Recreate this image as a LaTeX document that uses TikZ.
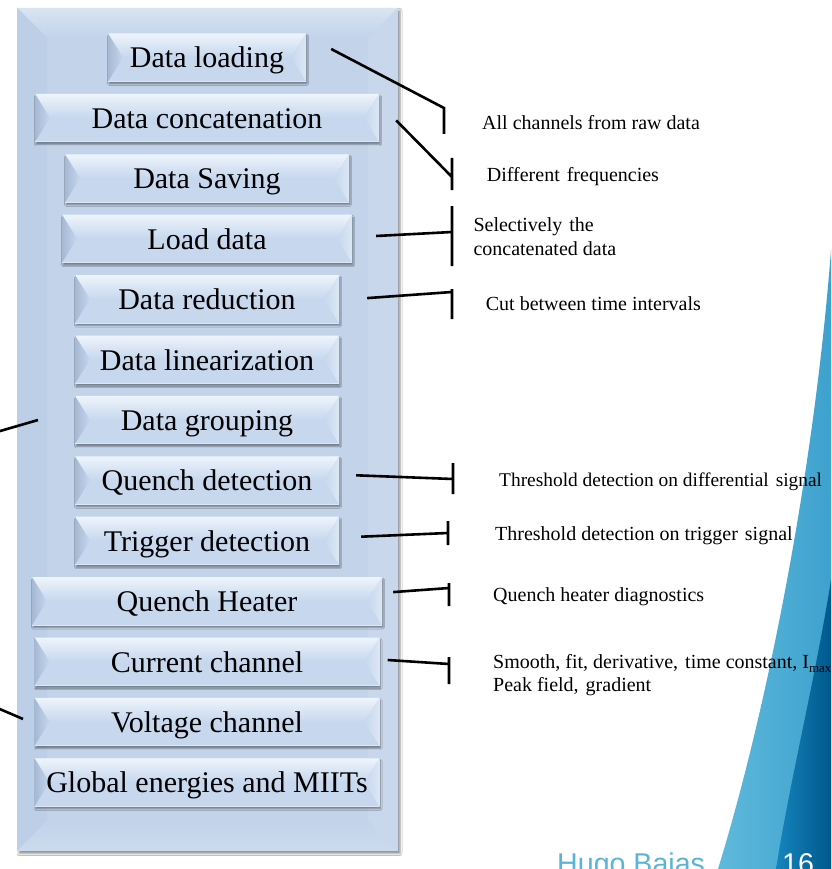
\documentclass[tikz,border=0pt]{standalone}
\usepackage{fontspec}
\setmainfont{Liberation Serif}
\newfontfamily\footerfont{Liberation Sans}
\usepackage{xcolor}
\definecolor{panelBlue}{HTML}{C2D3EA}
\definecolor{panelHigh}{HTML}{D9E4F3}
\definecolor{panelSide}{HTML}{BDCFE7}
\definecolor{panelEdge}{HTML}{C8D7EC}
\definecolor{panelLow}{HTML}{CCDAED}
\definecolor{stageBlue}{HTML}{C6D7EE}
\definecolor{stageHigh}{HTML}{EEF4FB}
\definecolor{stageDark}{HTML}{A6B9D4}
\definecolor{stageLight}{HTML}{DDE7F5}
\definecolor{lightWave}{HTML}{5FB9DC}
\definecolor{midWave}{HTML}{1585BC}
\definecolor{deepWave}{HTML}{00588C}
\definecolor{footerBlue}{HTML}{5AB4D8}
\usetikzlibrary{
    positioning,
    calc,
    shadows.blur
}
\tikzset{
    % Outer bevelled panel behind the stages
    panel/.style={
        rectangle,
        inner sep=0pt,
        fill=panelBlue,
        blur shadow={
            shadow xshift=2pt,
            shadow yshift=-2.5pt,
            shadow blur radius=2pt,
            shadow opacity=45
        },
        path picture={
            \path (path picture bounding box.north west) coordinate (pnw)
                  (path picture bounding box.north east) coordinate (pne)
                  (path picture bounding box.south west) coordinate (psw)
                  (path picture bounding box.south east) coordinate (pse);
            \path ([shift={(30pt,-30pt)}]pnw) coordinate (qnw)
                  ([shift={(-30pt,-30pt)}]pne) coordinate (qne)
                  ([shift={(30pt,30pt)}]psw) coordinate (qsw)
                  ([shift={(-30pt,30pt)}]pse) coordinate (qse);
            \shade[top color=panelHigh, bottom color=panelBlue] (pnw) -- (pne) -- (qne) -- (qnw) -- cycle;
            \fill[panelSide] (pnw) -- (qnw) -- (qsw) -- (psw) -- cycle;
            \fill[panelEdge] (pne) -- (qne) -- (qse) -- (pse) -- cycle;
            \shade[top color=panelBlue, bottom color=panelLow] (psw) -- (qsw) -- (qse) -- (pse) -- cycle;
        },
    },
    % Bevelled stage box
    stage/.style={
        rectangle,
        minimum height=48pt,
        inner sep=0pt,
        text height=24pt,
        text depth=3pt,
        font=\fontsize{30}{34}\selectfont,
        fill=stageBlue,
        blur shadow={
            shadow xshift=1pt,
            shadow yshift=-2.5pt,
            shadow blur radius=1.5pt,
            shadow blur steps=4,
            shadow opacity=40
        },
        path picture={
            \path (path picture bounding box.north west) coordinate (snw)
                  (path picture bounding box.north east) coordinate (sne)
                  (path picture bounding box.south west) coordinate (ssw)
                  (path picture bounding box.south east) coordinate (sse)
                  ([xshift=15pt]path picture bounding box.west) coordinate (bevelL)
                  ([xshift=-15pt]path picture bounding box.east) coordinate (bevelR);
            \shade[top color=stageHigh, bottom color=stageBlue] (snw) -- (sne) -- (bevelR) -- (bevelL) -- cycle;
            \shade[left color=stageDark, right color=stageBlue] (snw) -- (bevelL) -- (ssw) -- cycle;
            \shade[left color=stageBlue, right color=stageLight] (sne) -- (bevelR) -- (sse) -- cycle;
            \draw[stageLight, line width=1pt] (ssw) -- (sse);
        },
    },
    % Description text on the right
    note/.style={
        font=\fontsize{20}{23.3}\selectfont,
        anchor=base west,
        align=left,
        inner sep=0pt,
    },
    % Pointer line ending in a bar
    pointer/.style={
        line width=2.6pt,
        draw=black,
    },
}
% wider gap between some words
\newcommand{\wgap}{\hspace{7pt}}

\begin{document}
\begin{tikzpicture}[x=1pt, y=-1pt, node distance=60.4pt]
    \useasboundingbox (0,0) rectangle (831,869);
    \clip (0,0) rectangle (831,869);
    \fill[white] (0,0) rectangle (831,869);

    % corner decoration
    \shade[left color=lightWave, right color=lightWave!55!midWave]
        (831,250) .. controls (815,460) and (770,700) .. (718,869) -- (831,869) -- cycle;
    \shade[left color=midWave, right color=deepWave]
        (831,580) .. controls (815,680) and (790,780) .. (776,869) -- (831,869) -- cycle;

    \node (panel) [panel, minimum width=381pt, minimum height=843pt] at (207.5,429.5) {};

    \node (loading) [stage, minimum width=198pt] at (207,57.5) {Data loading};
    \node (concat) [stage, minimum width=344pt, below of=loading] {Data concatenation};
    \node (saving) [stage, minimum width=284pt, below of=concat] {Data Saving};
    \node (loaddata) [stage, minimum width=290pt, below of=saving] {Load data};
    \node (reduction) [stage, minimum width=264pt, below of=loaddata] {Data reduction};
    \node (linear) [stage, minimum width=264pt, below of=reduction] {Data linearization};
    \node (grouping) [stage, minimum width=264pt, below of=linear] {Data grouping};
    \node (quench) [stage, minimum width=264pt, below of=grouping] {Quench detection};
    \node (trigger) [stage, minimum width=264pt, below of=quench] {Trigger detection};
    \node (heater) [stage, minimum width=350pt, below of=trigger] {Quench Heater};
    \node (current) [stage, minimum width=345pt, below of=heater] {Current channel};
    \node (voltage) [stage, minimum width=345pt, below of=current] {Voltage channel};
    \node (energies) [stage, minimum width=345pt, below of=voltage] {Global energies and MIITs};

    % multi-line notes sit on the baseline of their last line
    \node (loadingNote) [note] at (482,129.3) {All channels from raw data};
    \node (concatNote) [note] at (486.7,181.5) {Different\wgap frequencies};
    \node (loaddataNote) [note] at (473.3,255) {Selectively\wgap the\\concatenated data};
    \node (reductionNote) [note] at (485.7,310.7) {Cut between time intervals};
    \node (quenchNote) [note, font=\fontsize{19.4}{23}\selectfont] at (499,486.7) {Threshold detection on differential\wgap signal};
    \node (triggerNote) [note] at (495,540.7) {Threshold detection on trigger\wgap signal};
    \node (heaterNote) [note] at (493,601.7) {Quench heater diagnostics};
    \node (currentNote) [note] at (493,691.6) {Smooth, fit, derivative,\wgap time constant, I\raisebox{-4pt}{\fontsize{13}{13}\selectfont max}\\Peak field,\wgap gradient};

    \coordinate (loadingBar) at (444,108);
    \coordinate (concatBar) at (452,177);
    \coordinate (loaddataBar) at (452,232);
    \coordinate (reductionBar) at (452,292);
    \coordinate (quenchBar) at (453,479);
    \coordinate (triggerBar) at (448,533);
    \coordinate (heaterBar) at (449,588);
    \coordinate (currentBar) at (449,664);

    \draw [pointer] ([xshift=25pt,yshift=8.5pt]loading.east) -- (loadingBar) ++(0,-1) -- ++(0,27);
    \draw [pointer] ([xshift=17pt,yshift=-2.5pt]concat.east) -- (concatBar) ++(0,-19) -- ++(0,32);
    \draw [pointer] ([xshift=24pt,yshift=2.7pt]loaddata.east) -- (loaddataBar) ++(0,-26) -- ++(0,60);
    \draw [pointer] ([xshift=28pt,yshift=1pt]reduction.east) -- (reductionBar) ++(0,-3) -- ++(0,30);
    \draw [pointer] ([xshift=17pt,yshift=5pt]quench.east) -- (quenchBar) ++(0,-16) -- ++(0,31);
    \draw [pointer] ([xshift=22pt,yshift=4pt]trigger.east) -- (triggerBar) ++(0,-12) -- ++(0,24);
    \draw [pointer] ([xshift=11pt,yshift=9pt]heater.east) -- (heaterBar) ++(0,-5) -- ++(0,23);
    \draw [pointer] ([xshift=8pt,yshift=1.5pt]current.east) -- (currentBar) ++(0,-7) -- ++(0,27);

    % pointers coming in from the left
    \coordinate (groupTail) at (38,420);
    \coordinate (groupEnd) at (-5,432.5);
    \coordinate (voltTail) at (23,719);
    \coordinate (voltEnd) at (-5,707);
    \draw [pointer] (groupTail) -- (groupEnd);
    \draw [pointer] (voltTail) -- (voltEnd);

    \node (author) [anchor=base west, inner sep=0pt, text=footerBlue, font=\footerfont\fontsize{28.6}{30}\selectfont] at (557,873.5) {Hugo Bajas};
    \node (slideNo) [anchor=base west, inner sep=0pt, text=white, font=\footerfont\fontsize{28.6}{30}\selectfont] at (782,873.5) {16};
\end{tikzpicture}
\end{document}
